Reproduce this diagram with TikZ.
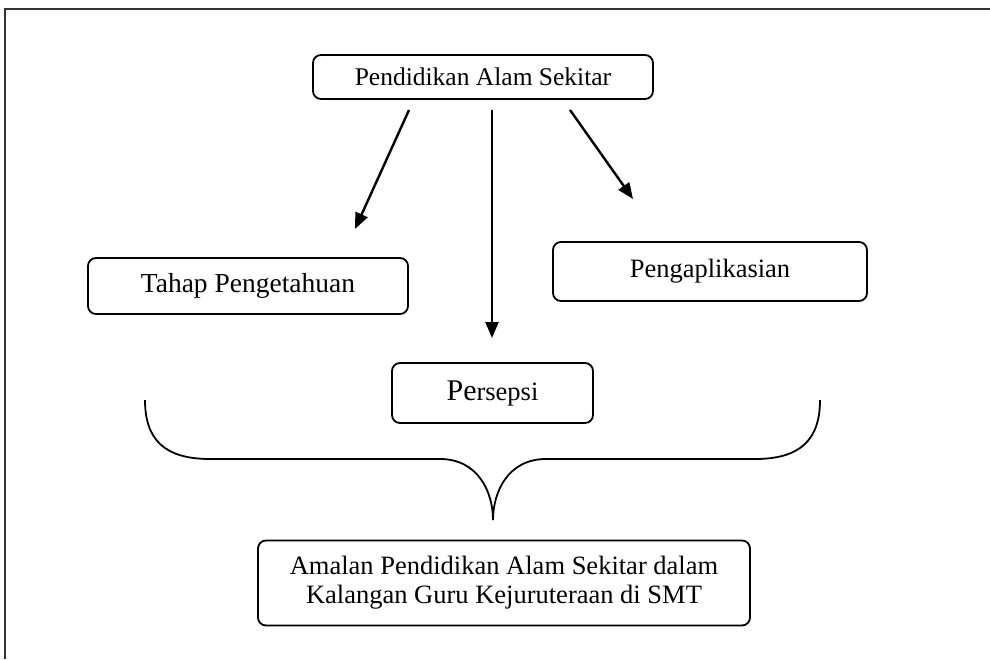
\documentclass[tikz,border=0pt]{standalone}
\usepackage{fontspec}
\setmainfont{Liberation Serif}
\usetikzlibrary{arrows.meta}
\tikzset{
  box/.style={draw=black, line width=1.8pt, rounded corners=8pt, align=center,
    inner sep=0pt, font=\fontsize{26.5}{29}\selectfont},
  conn/.style={line width=2.4pt, -{Triangle[length=16pt,width=13pt]}},
  frame/.style={draw=black!80, line width=2pt},
  bracestyle/.style={line width=1.8pt}
}
\begin{document}
\begin{tikzpicture}[x=1pt,y=-1pt]
\useasboundingbox (0,0) rectangle (990,659);
\draw[frame] (5,659) -- (5,9) -- (990,9);
\node[box, minimum width=340pt, minimum height=44pt, font=\fontsize{25.5}{29}\selectfont] (top) at (483,77) {Pendidikan Alam Sekitar};
\node[box, minimum width=320pt, minimum height=56pt, font=\fontsize{27.5}{29}\selectfont] (tahap) at (248,286) {Tahap Pengetahuan};
\node[box, minimum width=314pt, minimum height=59pt] (peng) at (710,271.5) {Pengaplikasian};
\node[box, minimum width=201pt, minimum height=60pt] (pers) at (492.5,393) {{\fontsize{30}{29}\selectfont Pe}rsepsi};
\node[box, minimum width=492pt, minimum height=85pt] (amal) at (504,583) {Amalan Pendidikan Alam Sekitar dalam\\Kalangan Guru Kejuruteraan di SMT};
\coordinate (s1) at (409,110);
\coordinate (e1) at (355,229);
\coordinate (s2) at (492,110);
\coordinate (e2) at (492,338);
\coordinate (s3) at (570,110);
\coordinate (e3) at (633,199);
\draw[conn] (s1) -- (e1);
\draw[conn] (s2) -- (e2);
\draw[conn] (s3) -- (e3);
\coordinate (bl) at (145,400);
\coordinate (br) at (820,400);
\coordinate (tip) at (493,520);
\draw[bracestyle] (bl) .. controls (145,440) and (165,459) .. (210,459)
  -- (440,459) .. controls (478,459) and (493,492) .. (tip);
\draw[bracestyle] (br) .. controls (820,440) and (800,459) .. (755,459)
  -- (546,459) .. controls (508,459) and (493,492) .. (tip);
\end{tikzpicture}
\end{document}
